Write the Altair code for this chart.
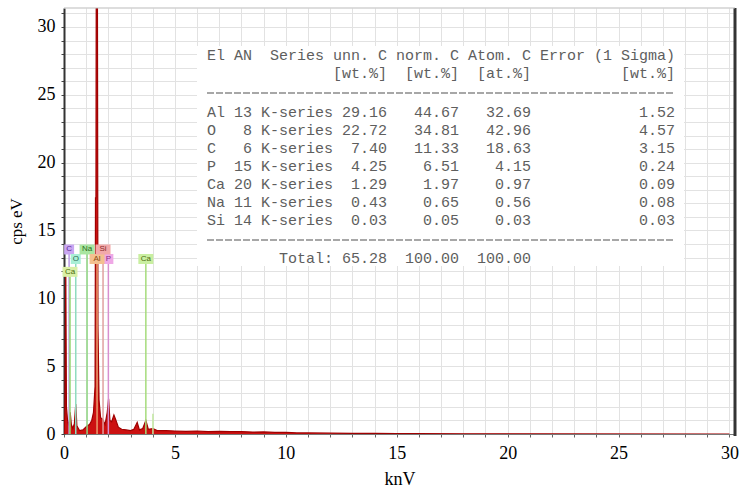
import altair as alt
import pandas as pd

# ---------------- spectrum ----------------
energy_kev = [0.00, 0.04, 0.08, 0.11, 0.16, 0.22, 0.28, 0.33, 0.40, 0.47, 0.53, 0.58,
              0.70, 0.85, 0.98, 1.05, 1.15, 1.25, 1.33, 1.40, 1.42, 1.44, 1.46, 1.50,
              1.53, 1.58, 1.65, 1.74, 1.85, 1.95, 2.01, 2.07, 2.15, 2.25, 2.32, 2.45,
              2.60, 2.80, 3.00, 3.15, 3.30, 3.40, 3.55, 3.69, 3.80, 4.01, 4.20, 4.60,
              5.00, 5.50, 6.00, 6.50, 7.00, 7.50, 8.00, 8.50, 9.00, 9.50, 10.0, 10.5,
              11.0, 12.0, 13.0, 14.0, 15.0, 16.0, 18.0, 20.0, 30.0]
counts_cps = [0.0, 1.5, 12.1, 2.0, 1.0, 0.6, 1.6, 0.7, 0.4, 0.8, 2.2, 0.6,
              0.25, 0.3, 0.5, 0.6, 0.7, 1.0, 1.6, 3.5, 17.4, 17.4, 40.0, 40.0,
              8.0, 2.5, 1.2, 1.1, 0.7, 1.6, 2.6, 1.0, 0.9, 1.4, 1.1, 0.5,
              0.35, 0.3, 0.25, 0.35, 0.85, 0.3, 0.4, 1.0, 0.35, 0.4, 0.25, 0.25,
              0.22, 0.2, 0.22, 0.18, 0.2, 0.17, 0.18, 0.14, 0.15, 0.12, 0.12, 0.08,
              0.08, 0.06, 0.05, 0.04, 0.03, 0.03, 0.02, 0.01, 0.0]

# ---------------- element markers ----------------
marker_labels = ["C", "O", "Ca", "Na", "Al", "Si", "P", "Ca"]
marker_kev = [0.23, 0.53, 0.27, 1.04, 1.49, 1.76, 2.00, 3.69]
marker_level = [13.6, 12.9, 11.95, 13.6, 12.9, 13.6, 12.9, 12.9]
marker_fill = ["#c9a6f2", "#a9efd6", "#d9efa6", "#a9e6a0", "#f3c08f", "#f2a9a9", "#efa8e6", "#c9efa0"]
marker_line = ["#b99ae6", "#8fdcc0", "#93d66e", "#8fd682", "#e8a070", "#e0a0a0", "#d88fd0", "#a6dc7c"]
marker_text = ["#5a2a90", "#2a6a50", "#4a6a10", "#2a6a20", "#8a4a10", "#8a2a2a", "#8a2a80", "#4a6a10"]

kbeta_kev = [4.01]
kbeta_level = [1.5]

# ---------------- quantification table ----------------
elements = ["Al", "O", "C", "P", "Ca", "Na", "Si"]
atomic_no = ["13", "8", "6", "15", "20", "11", "14"]
unn_c = ["29.16", "22.72", "7.40", "4.25", "1.29", "0.43", "0.03"]
norm_c = ["44.67", "34.81", "11.33", "6.51", "1.97", "0.65", "0.05"]
atom_c = ["32.69", "42.96", "18.63", "4.15", "0.97", "0.56", "0.03"]
error_1s = ["1.52", "4.57", "3.15", "0.24", "0.09", "0.08", "0.03"]
totals = ["65.28", "100.00", "100.00"]

W, H = 671, 426
XMAX, YMAX = 30.25, 31.4
CHAR_W = 9.0
TX0 = 143

spec = pd.DataFrame({"e": energy_kev, "c": counts_cps})
mk = pd.DataFrame({"lab": marker_labels, "e": marker_kev, "lvl": marker_level,
                   "fill": marker_fill, "line": marker_line, "tc": marker_text})
mk["zero"] = 0.0
mk["wide"] = mk["lab"].str.len() > 1
kb = pd.DataFrame({"e": kbeta_kev, "lvl": kbeta_level})
kb["zero"] = 0.0

# table lines
lines = ["El AN  Series unn. C norm. C Atom. C Error (1 Sigma)",
         " " * 14 + "[wt.%]" + "  " + "[wt.%]" + "  " + "[at.%]" + " " * 10 + "[wt.%]"]
line_y = [55, 73]
for i, el in enumerate(elements):
    lines.append(f"{el:<2} {atomic_no[i]:>2} K-series {unn_c[i]:>5} {norm_c[i]:>7} {atom_c[i]:>7} {error_1s[i]:>15}")
    line_y.append(112 + i * 18)
lines.append(f"{'Total:':>14} {totals[0]:>5} {totals[1]:>7} {totals[2]:>7}")
line_y.append(258)
lead = [len(s) - len(s.lstrip(" ")) for s in lines]
tbl = pd.DataFrame({
    "t": [s.lstrip(" ").replace(" ", "\u00a0") for s in lines],
    "px": [TX0 + n * CHAR_W for n in lead],
    "py": [y - 8 for y in line_y],
})
dash_df = pd.DataFrame({"py": [93 - 8, 240 - 8]})

xs = alt.Scale(domain=[0, XMAX], nice=False, zero=False)
ys = alt.Scale(domain=[0, YMAX], nice=False, zero=False)

serif = "Liberation Serif"

x_axis = alt.Axis(values=list(range(0, 31)), tickCount=100, format="d",
                  labelExpr="datum.value % 5 == 0 ? datum.label : ''",
                  labelOverlap=False, labelBound=False, labelFlush=False,
                  title="knV", titleFont=serif, titleFontSize=18, titleFontWeight="normal",
                  titleColor="black", titlePadding=8,
                  labelFont=serif, labelFontSize=18, labelColor="black", labelPadding=7,
                  tickSize=3, tickColor="#666", domainColor="#777", domainWidth=1,
                  gridColor="#e2e2e2", gridWidth=1)
y_axis = alt.Axis(values=list(range(0, 32)), tickCount=100, format="d",
                  labelExpr="datum.value % 5 == 0 ? datum.label : ''",
                  labelOverlap=False, labelBound=False, labelFlush=False,
                  title="cps eV", titleFont=serif, titleFontSize=17, titleFontWeight="normal",
                  titleColor="black", titlePadding=12,
                  labelFont=serif, labelFontSize=18, labelColor="black", labelPadding=6,
                  tickSize=3, tickColor="#444", domainColor="#333", domainWidth=2,
                  gridColor="#e2e2e2", gridWidth=1)

area = alt.Chart(spec).mark_area(color="#cc1111", clip=True, opacity=1,
                                 line={"color": "#a00000", "strokeWidth": 1.2}).encode(
    x=alt.X("e:Q", scale=xs, axis=x_axis),
    y=alt.Y("c:Q", scale=ys, axis=y_axis),
)

one = pd.DataFrame({"a": [0]})

table_bg = alt.Chart(one).mark_rect(color="white").encode(
    x=alt.value(133), x2=alt.value(620), y=alt.value(38), y2=alt.value(258))

table_text = alt.Chart(tbl).mark_text(font="Liberation Mono", fontSize=15, color="#5e5e5e",
                                      align="left", baseline="middle").encode(
    x=alt.X("px:Q", scale=None), y=alt.Y("py:Q", scale=None), text="t:N")

dashes = alt.Chart(dash_df).mark_rule(color="#8a8a8a", strokeWidth=1.5, strokeDash=[7, 2]).encode(
    x=alt.value(TX0), x2=alt.value(TX0 + 52 * CHAR_W), y=alt.Y("py:Q", scale=None))

marker_rules = alt.Chart(mk).mark_rule(strokeWidth=1.5).encode(
    x=alt.X("e:Q", scale=xs), y=alt.Y("zero:Q", scale=ys), y2=alt.Y2("lvl:Q"),
    color=alt.Color("line:N", scale=None))

kbeta_rule = alt.Chart(kb).mark_rule(strokeWidth=1.5, color="#c2e8a0").encode(
    x=alt.X("e:Q", scale=xs), y=alt.Y("zero:Q", scale=ys), y2=alt.Y2("lvl:Q"))

box_narrow = alt.Chart(mk).transform_filter("!datum.wide").mark_rect(
    xOffset=-5, x2Offset=5, yOffset=-5, y2Offset=5).encode(
    x=alt.X("e:Q", scale=xs), x2="e:Q", y=alt.Y("lvl:Q", scale=ys), y2="lvl:Q",
    color=alt.Color("fill:N", scale=None))
box_wide = alt.Chart(mk).transform_filter("datum.wide").mark_rect(
    xOffset=-7.5, x2Offset=7.5, yOffset=-5, y2Offset=5).encode(
    x=alt.X("e:Q", scale=xs), x2="e:Q", y=alt.Y("lvl:Q", scale=ys), y2="lvl:Q",
    color=alt.Color("fill:N", scale=None))
box_text = alt.Chart(mk).mark_text(font="Liberation Sans", fontSize=8, baseline="middle",
                                   align="center").encode(
    x=alt.X("e:Q", scale=xs), y=alt.Y("lvl:Q", scale=ys), text="lab:N",
    color=alt.Color("tc:N", scale=None))

frame_right = alt.Chart(one).mark_rule(color="#333", strokeWidth=3).encode(
    x=alt.value(W), y=alt.value(0), y2=alt.value(H + 2))
frame_top = alt.Chart(one).mark_rule(color="#bbbbbb", strokeWidth=1).encode(
    x=alt.value(0), x2=alt.value(W), y=alt.value(0))

chart = alt.layer(
    area, table_bg, dashes, table_text, marker_rules, kbeta_rule,
    box_narrow, box_wide, box_text, frame_right, frame_top
).properties(
    width=W, height=H,
    autosize=alt.AutoSizeParams(type="none"),
    padding={"left": 64, "top": 8, "right": 5, "bottom": 59},
    background="white",
).configure_view(stroke=None)

chart.save("out.html", embed_options={"renderer": "svg", "actions": False})
